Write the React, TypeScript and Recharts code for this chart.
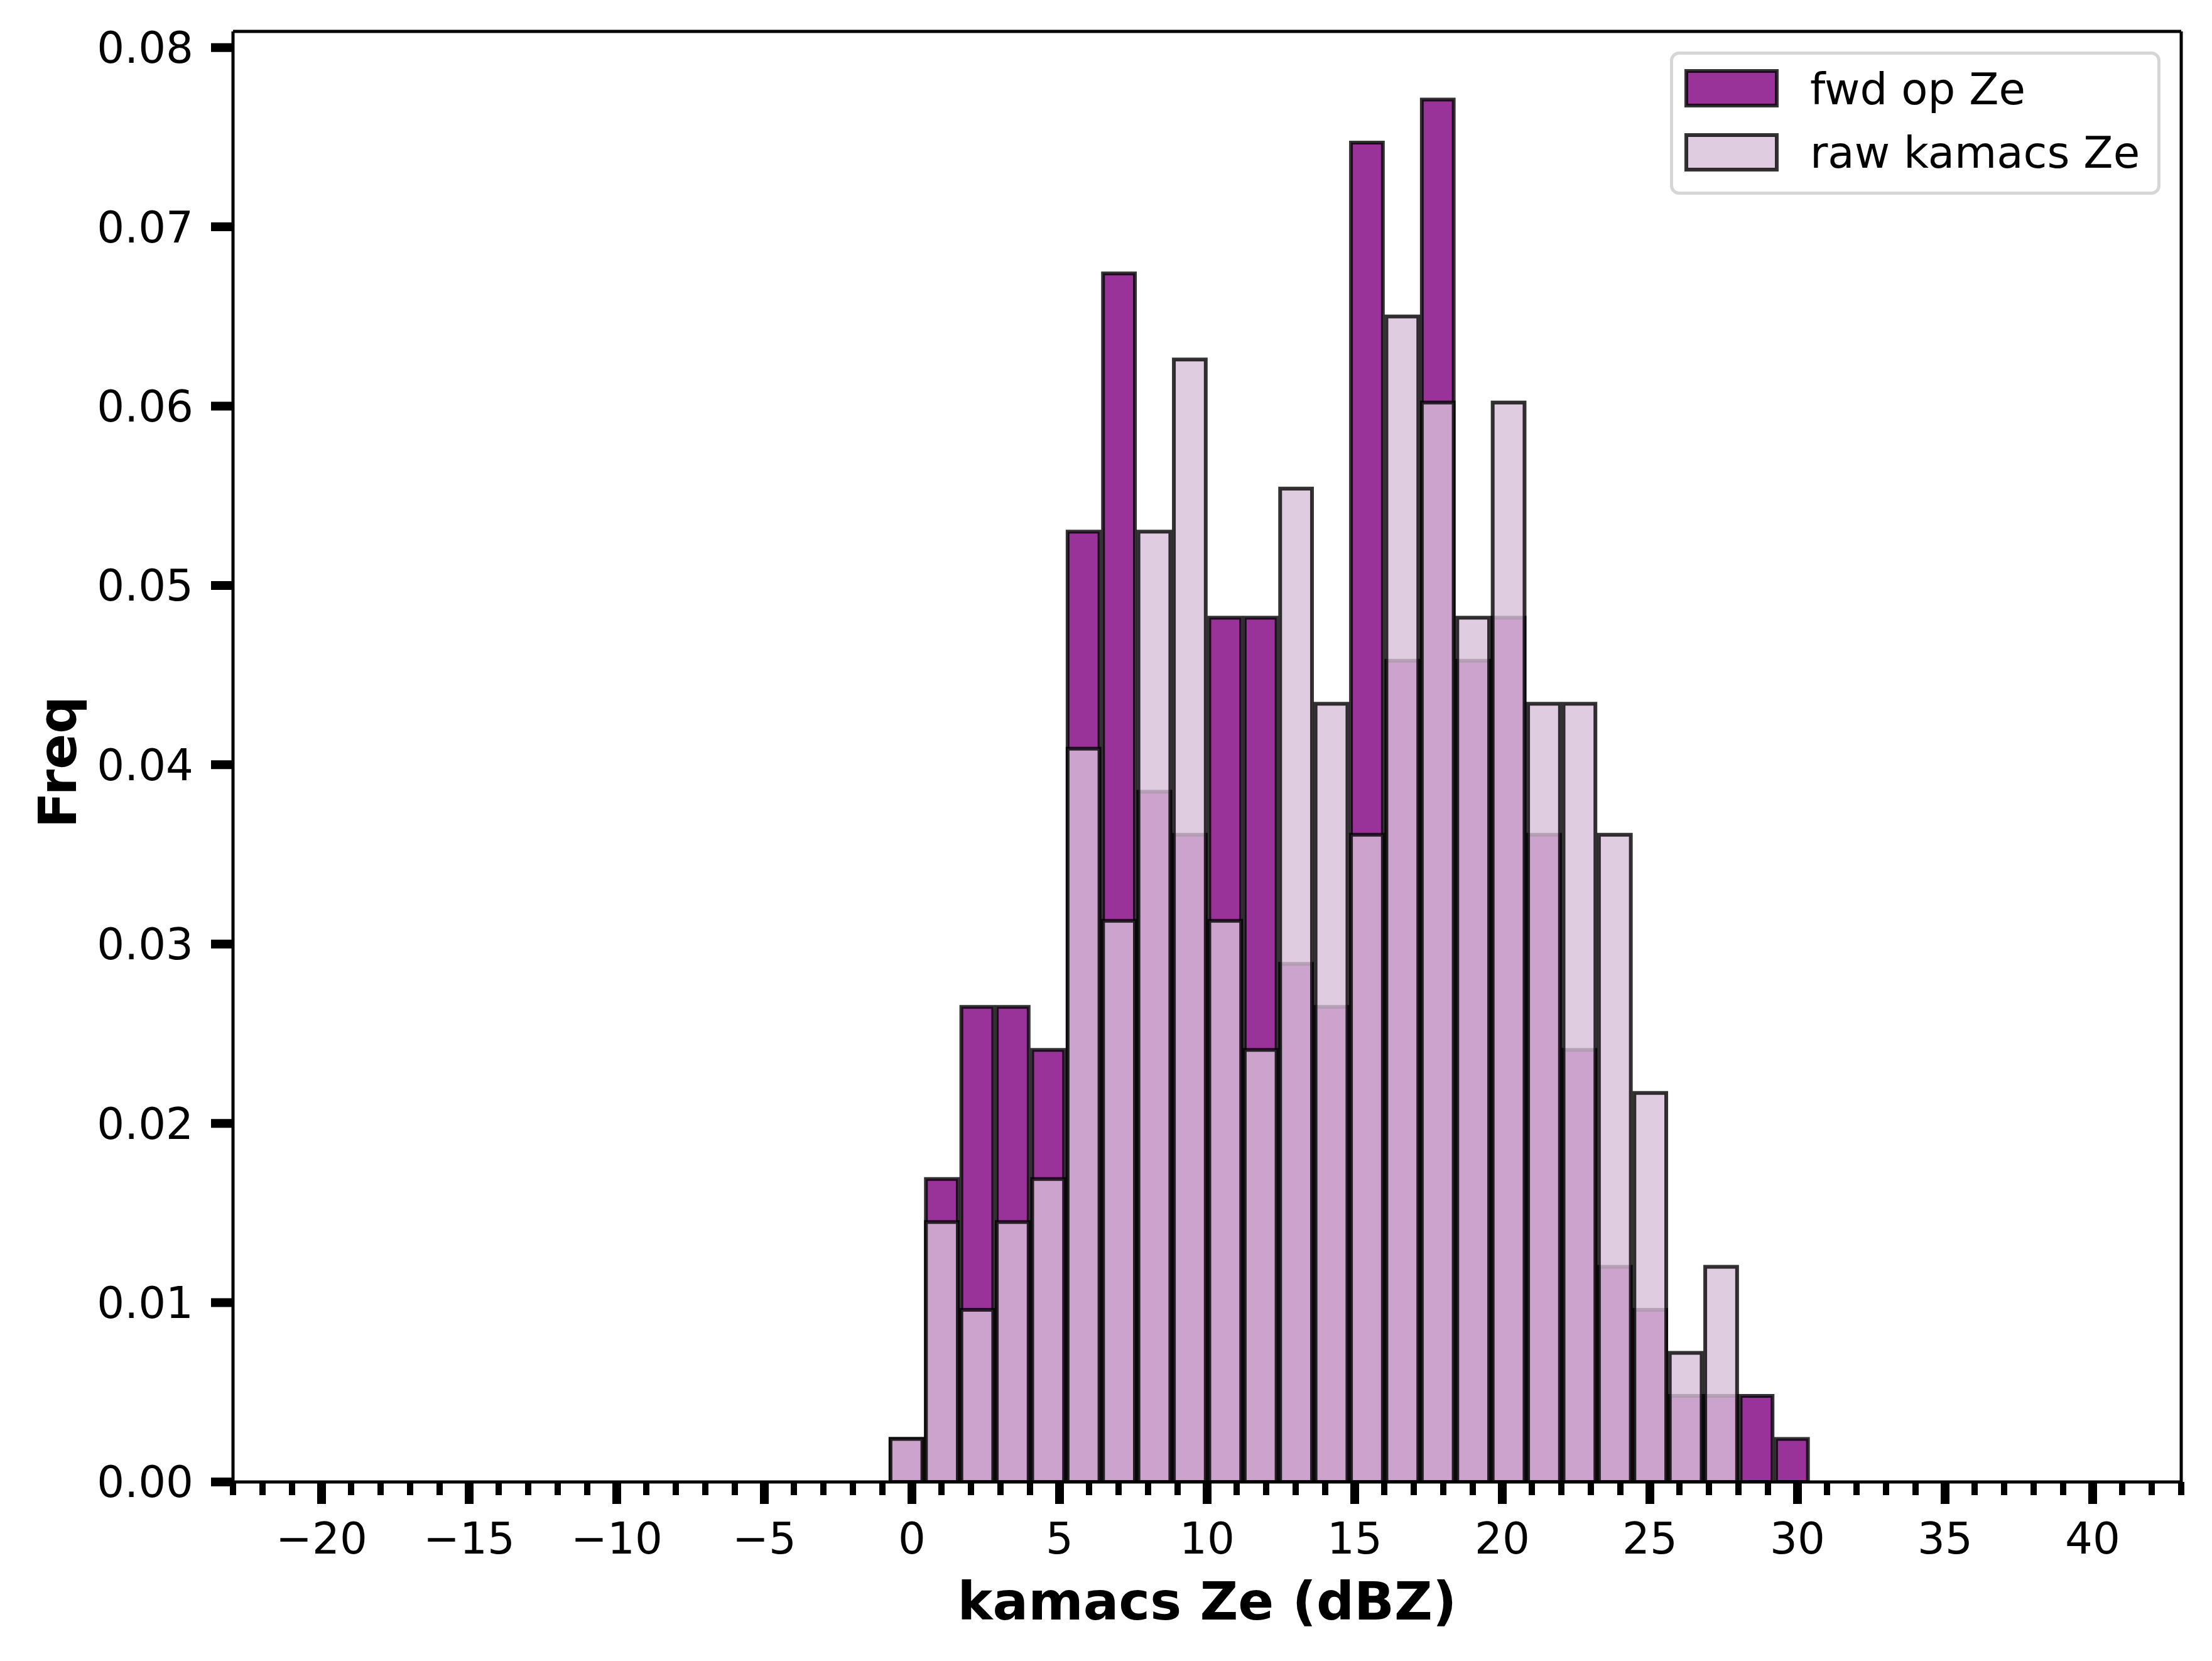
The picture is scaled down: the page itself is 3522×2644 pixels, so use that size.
import React from 'react';
import { BarChart, Bar, XAxis, YAxis, Legend } from 'recharts';

// histogram bins are 1.2 dBZ wide, these are the bin centres
const BIN_CENTERS = [
  -0.19, 1.01, 2.21, 3.41, 4.61, 5.81, 7.01, 8.21, 9.41, 10.61, 11.81, 13.01, 14.21,
  15.41, 16.61, 17.81, 19.01, 20.21, 21.41, 22.61, 23.81, 25.01, 26.21, 27.41, 28.61, 29.81,
];

// normalised frequency (density) per bin
const FWD_OP_ZE = [
  0.0024, 0.0169, 0.0265, 0.0265, 0.0241, 0.0530, 0.0674, 0.0385, 0.0361, 0.0482, 0.0482, 0.0289, 0.0265,
  0.0747, 0.0458, 0.0771, 0.0458, 0.0482, 0.0361, 0.0241, 0.0120, 0.0096, 0.0048, 0.0048, 0.0048, 0.0024,
];
const RAW_KAMACS_ZE = [
  0.0024, 0.0145, 0.0096, 0.0145, 0.0169, 0.0409, 0.0313, 0.0530, 0.0626, 0.0313, 0.0241, 0.0554, 0.0434,
  0.0361, 0.0650, 0.0602, 0.0482, 0.0602, 0.0434, 0.0434, 0.0361, 0.0217, 0.0072, 0.0120, 0, 0,
];

// x ticks: every integer gets a minor tick, multiples of 5 get a labelled major tick
const X_TICKS = [
  -23, -22, -21, -20, -19, -18, -17, -16, -15, -14, -13, -12, -11, -10, -9, -8, -7, -6, -5, -4, -3, -2, -1,
  0, 1, 2, 3, 4, 5, 6, 7, 8, 9, 10, 11, 12, 13, 14, 15, 16, 17, 18, 19, 20, 21, 22, 23, 24, 25, 26, 27, 28,
  29, 30, 31, 32, 33, 34, 35, 36, 37, 38, 39, 40, 41, 42, 43,
];
const Y_TICKS = [0, 0.01, 0.02, 0.03, 0.04, 0.05, 0.06, 0.07, 0.08];

const X_DOMAIN: [number, number] = [-23, 43];
const Y_MAX = 0.0809;

const W = 3522;
const H = 2644;
const PLOT = { left: 371, right: 3473, top: 50, bottom: 2359 };
const BIN_WIDTH = 1.2;
const BAR_PX = ((PLOT.right - PLOT.left) / (X_DOMAIN[1] - X_DOMAIN[0])) * BIN_WIDTH;

const SPINE = { stroke: '#000', strokeWidth: 5 };
const EDGE = { stroke: '#000', strokeOpacity: 0.8, strokeWidth: 6 };

const SERIES_STYLE: Record<string, { fill: string }> = {
  fwd: { fill: '#800080' },
  raw: { fill: '#d8bfd8' },
};

const data = BIN_CENTERS.map((ze, i) => ({ ze, fwd: FWD_OP_ZE[i], raw: RAW_KAMACS_ZE[i] }));

const fmtX = (v: number) => (v < 0 ? `\u2212${-v}` : `${v}`);

// draws matplotlib style major / minor ticks
const XTick = (props: any) => {
  const { x, y, payload } = props;
  const v = payload.value;
  const major = v % 5 === 0;
  return (
    <g>
      <line x1={x} x2={x} y1={y} y2={y + (major ? 35 : 21)} stroke="#000" strokeWidth={major ? 14 : 10} />
      {major && (
        <text x={x} y={y + 114} textAnchor="middle" fontSize={69} fill="#000">
          {fmtX(v)}
        </text>
      )}
    </g>
  );
};

const XTitle = () => (
  <text x={(PLOT.left + PLOT.right) / 2} y={2578} textAnchor="middle" fontSize={84} fontWeight="bold" fill="#000">
    kamacs Ze (dBZ)
  </text>
);

const YTitle = () => (
  <text x={121} y={1213} transform="rotate(-90 121 1213)" textAnchor="middle" fontSize={84} fontWeight="bold" fill="#000">
    Freq
  </text>
);

const LegendBox = (props: any) => {
  const payload = props.payload ?? [];
  return (
    <svg width={781} height={228} style={{ display: 'block' }}>
      <rect x={2.5} y={2.5} width={776} height={223} rx={12} fill="#fff" fillOpacity={0.8} stroke="#d6d6d6" strokeWidth={5} />
      {payload.map((entry: any, i: number) => {
        const s = SERIES_STYLE[entry.dataKey] ?? (i === 0 ? SERIES_STYLE.fwd : SERIES_STYLE.raw);
        return (
          <g key={entry.value}>
            <rect x={26} y={31 + i * 102} width={144} height={55} fill={s.fill} fillOpacity={0.8} {...EDGE} />
            <text x={223} y={84 + i * 101} fontSize={69} fill="#000">
              {entry.value}
            </text>
          </g>
        );
      })}
    </svg>
  );
};

export default function App() {
  return (
    <div
      style={{
        position: 'absolute',
        left: 0,
        top: 0,
        width: W,
        height: H,
        background: '#fff',
        fontFamily: '"DejaVu Sans", sans-serif',
      }}
    >
      <BarChart
        width={W}
        height={H}
        data={data}
        margin={{ top: PLOT.top - 1, right: W - PLOT.right - 1, bottom: 0, left: 0 }}
        barCategoryGap={0}
        barGap={0}
      >
        {/* top / right axes: used by the raw bars so they overlay the fwd bars, and drawn as the box spines */}
        <XAxis
          xAxisId="top"
          orientation="top"
          dataKey="ze"
          type="number"
          domain={X_DOMAIN}
          allowDataOverflow
          height={1}
          tick={false}
          tickLine={false}
          axisLine={SPINE}
        />
        <YAxis
          yAxisId="right"
          orientation="right"
          type="number"
          domain={[0, Y_MAX]}
          allowDataOverflow
          width={1}
          tick={false}
          tickLine={false}
          axisLine={SPINE}
        />

        <XAxis
          xAxisId="ze"
          dataKey="ze"
          type="number"
          domain={X_DOMAIN}
          allowDataOverflow
          ticks={X_TICKS}
          interval={0}
          height={H - PLOT.bottom}
          tickSize={0}
          tickMargin={0}
          tickLine={false}
          axisLine={SPINE}
          tick={<XTick />}
          label={<XTitle />}
        />
        <YAxis
          yAxisId="freq"
          type="number"
          domain={[0, Y_MAX]}
          allowDataOverflow
          ticks={Y_TICKS}
          interval={0}
          width={PLOT.left}
          tickSize={35}
          tickMargin={28}
          tickLine={{ stroke: '#000', strokeWidth: 14 }}
          axisLine={SPINE}
          tick={{ fontSize: 69, fill: '#000' }}
          tickFormatter={(v: number) => v.toFixed(2)}
          label={<YTitle />}
        />

        <Legend
          layout="vertical"
          align="center"
          verticalAlign="middle"
          content={<LegendBox />}
          wrapperStyle={{ left: 2659, top: 82, width: 781, height: 228 }}
        />

        <Bar
          xAxisId="ze"
          yAxisId="freq"
          dataKey="fwd"
          name="fwd op Ze"
          fill={SERIES_STYLE.fwd.fill}
          fillOpacity={0.8}
          {...EDGE}
          barSize={BAR_PX}
          isAnimationActive={false}
        />
        <Bar
          xAxisId="top"
          yAxisId="right"
          dataKey="raw"
          name="raw kamacs Ze"
          fill={SERIES_STYLE.raw.fill}
          fillOpacity={0.8}
          {...EDGE}
          barSize={BAR_PX}
          isAnimationActive={false}
        />
      </BarChart>
    </div>
  );
}
